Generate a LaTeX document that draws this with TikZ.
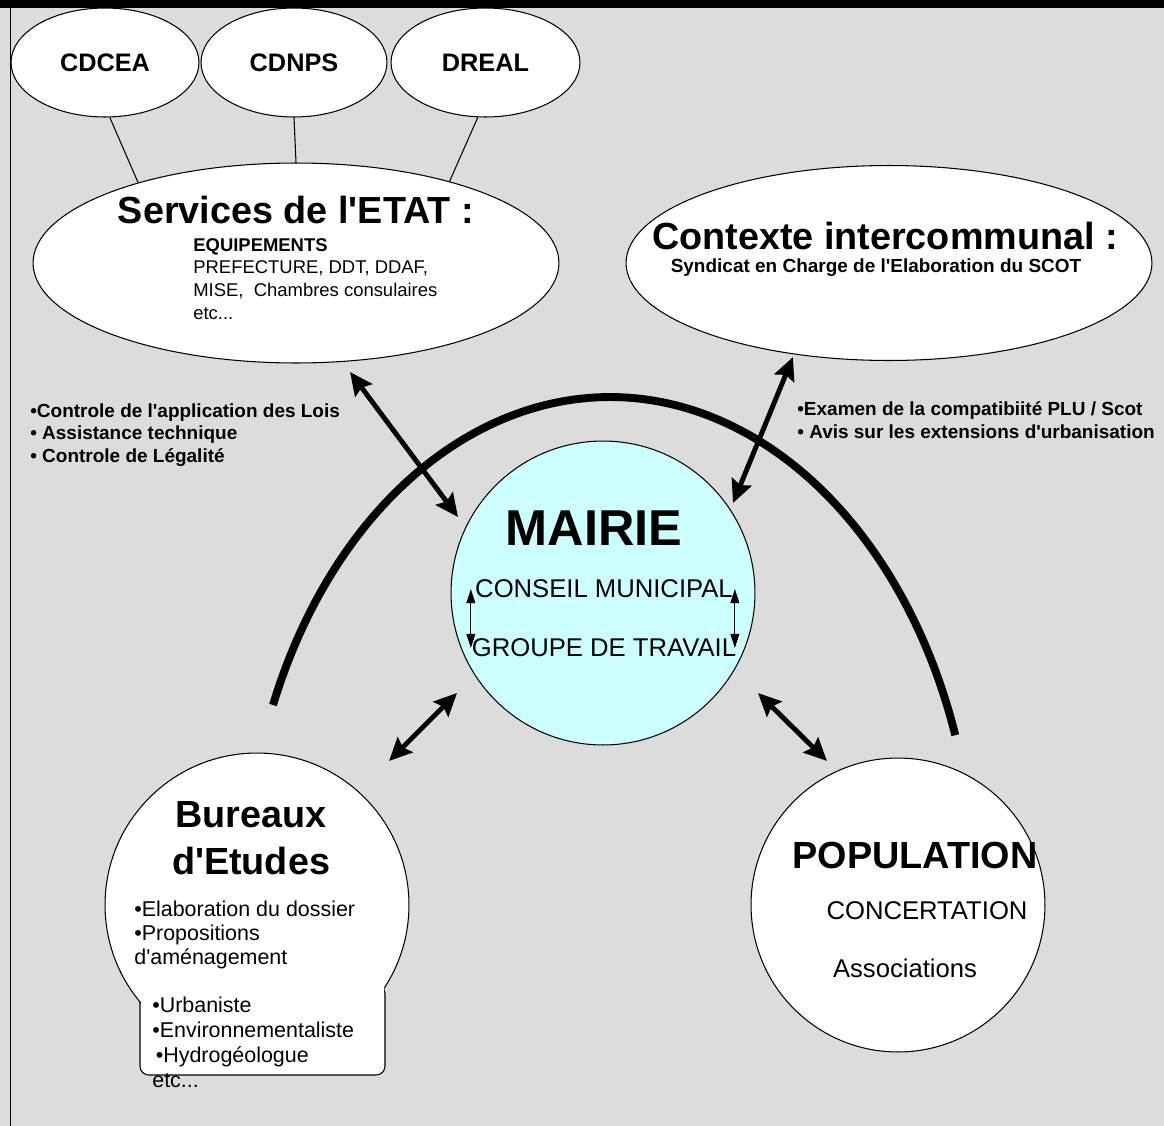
\documentclass[tikz,border=0pt]{standalone}
\usepackage{fontspec}
\setmainfont{Liberation Sans}
\usetikzlibrary{shapes.geometric, arrows.meta, positioning}
\definecolor{fondgris}{RGB}{220, 220, 220}
\definecolor{mairiecyan}{RGB}{204, 255, 255}
\newcommand{\apos}{\textquotesingle}
\tikzset{
    bulle/.style={ellipse, draw=black, fill=white, line width=0.6pt, inner sep=0pt},
    rond/.style={circle, draw=black, fill=white, line width=0.6pt, inner sep=0pt},
    titre/.style={font=\fontsize{21.5}{26.6}\selectfont\bfseries, align=center, inner sep=0pt},
    sigle/.style={font=\fontsize{14.4}{17}\selectfont\bfseries},
    petitgras/.style={font=\fontsize{10.8}{13}\selectfont\bfseries, align=left, inner sep=0pt},
    liste/.style={font=\fontsize{12.2}{13.6}\selectfont, align=left, inner sep=0pt},
    moyen/.style={font=\fontsize{14.6}{17}\selectfont, inner sep=0pt},
    fleche/.style={{Stealth[length=13pt, width=12pt, inset=2pt]}-{Stealth[length=13pt, width=12pt, inset=2pt]}, line width=2.8pt},
    petitefleche/.style={{Triangle[length=8pt, width=5pt]}-{Triangle[length=8pt, width=5pt]}, line width=0.6pt}
}
\begin{document}
\begin{tikzpicture}[x=0.02cm, y=-0.02cm]
    % fond et cadre
    \fill[fondgris] (0,0) rectangle (1164,1126);
    \useasboundingbox (0,0) rectangle (1164,1126);
    \fill[black] (0,0) rectangle (1164,8);
    \draw[line width=0.8pt] (10.5,8) -- (10.5,1126);

    % organismes consultes
    \node (cdcea) [bulle, sigle, minimum width=3.76cm, minimum height=2.18cm] at (105,62.5) {CDCEA};
    \node (cdnps) [bulle, sigle, minimum width=3.72cm, minimum height=2.18cm] at (294,62.5) {CDNPS};
    \node (dreal) [bulle, sigle, minimum width=3.78cm, minimum height=2.18cm] at (485.5,62.5) {DREAL};

    % services de l'Etat
    \node (etat) [bulle, minimum width=10.52cm, minimum height=4cm] at (296,263) {};
    \node (etattitre) [titre] at (296,210) {Services de l\apos ETAT :};
    \node (etatliste) [font=\fontsize{10.5}{12.9}\selectfont, align=left, inner sep=0pt, anchor=north west] at (193,238) {\textbf{EQUIPEMENTS}\\PREFECTURE, DDT, DDAF,\\MISE,~ Chambres consulaires\\etc...};
    \draw[line width=0.6pt] (cdcea.-85) -- (etat.153);
    \draw[line width=0.6pt] (cdnps.south) -- (etat.north);
    \draw[line width=0.6pt] (dreal.-98) -- (etat.28);

    % contexte intercommunal
    \node (contexte) [bulle, minimum width=10.52cm, minimum height=3.9cm] at (889,263) {};
    \node (contextetitre) [titre] at (885,236) {Contexte intercommunal :};
    \node (syndicat) [petitgras] at (876,268) {Syndicat en Charge de l\apos Elaboration du SCOT};

    % missions
    \node (missionsetat) [petitgras, anchor=north west] at (30,403) {•Controle de l\apos application des Lois\\• Assistance technique\\• Controle de Légalité};
    \node (missionsscot) [petitgras, anchor=north west] at (797,401) {•Examen de la compatibiité PLU / Scot\\• Avis sur les extensions d\apos urbanisation};

    % grand arc
    \draw[line width=4.5pt] (273,705) arc[start angle=202.6, end angle=341.1, x radius=365, y radius=500];

    % mairie
    \node (mairie) [rond, fill=mairiecyan, minimum size=6.08cm] at (603,593) {};
    \node (mairietitre) [font=\fontsize{28.7}{34}\selectfont\bfseries, inner sep=0pt] at (594,528) {MAIRIE};
    \node (conseil) [moyen] at (604,589) {CONSEIL MUNICIPAL};
    \node (groupe) [moyen] at (604,648) {GROUPE DE TRAVAIL};
    \draw[petitefleche] ([xshift=-2.3pt]conseil.west) -- ([xshift=-2.3pt]conseil.west |- groupe.west);
    \draw[petitefleche] ([xshift=1pt]conseil.east) -- ([xshift=1pt]conseil.east |- groupe.east);

    % bureaux d'etudes
    \node (bureauxbas) [draw, fill=white, line width=0.6pt, rounded corners=5pt, minimum width=4.9cm, minimum height=1.8cm] at (262.5,1030) {};
    \node (bureaux) [rond, minimum size=6.08cm] at (257,905) {};
    \fill[white] ([xshift=0.9pt]bureauxbas.north west) rectangle ([xshift=-0.9pt, yshift=9pt]bureauxbas.south east);
    \node (bureauxtitre) [titre] at (251,838) {Bureaux\\d\apos Etudes};
    \node (bureauxliste) [liste, anchor=north west] at (134,901) {•Elaboration du dossier\\•Propositions\\d\apos aménagement};
    \node (specialistes) [font=\fontsize{12.2}{14.2}\selectfont, align=left, inner sep=0pt, anchor=north west] at (152,997) {•Urbaniste\\•Environnementaliste\\\hspace{2pt}•Hydrogéologue\\etc...};

    % population
    \node (population) [rond, minimum size=5.88cm] at (898,905) {};
    \node (populationtitre) [titre] at (915,855) {POPULATION};
    \node (concertation) [moyen] at (927,911) {CONCERTATION};
    \node (associations) [moyen] at (905,968) {Associations};

    % liaisons avec la mairie
    \coordinate (etatbas) at (350,372);
    \coordinate (mairiehg) at (458,517);
    \coordinate (contextebas) at (793,357);
    \coordinate (mairiehd) at (733,503);
    \coordinate (mairiebg) at (457,693);
    \coordinate (bureauxhaut) at (389,761);
    \coordinate (mairiebd) at (758,693);
    \coordinate (populationhaut) at (827,761);
    \draw[fleche] (etatbas) -- (mairiehg);
    \draw[fleche] (contextebas) -- (mairiehd);
    \draw[fleche] (mairiebg) -- (bureauxhaut);
    \draw[fleche] (mairiebd) -- (populationhaut);
\end{tikzpicture}
\end{document}
